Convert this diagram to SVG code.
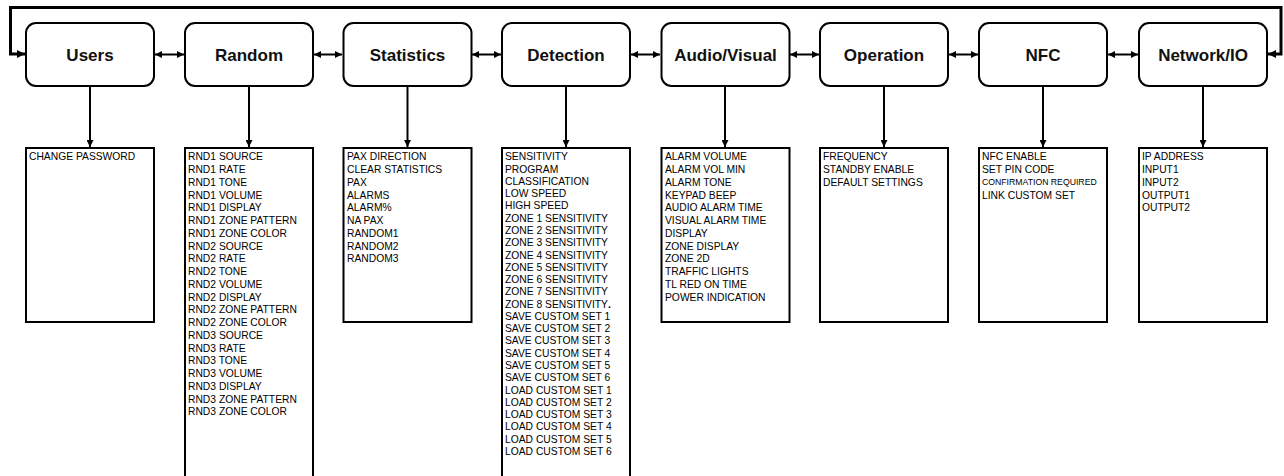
<svg xmlns="http://www.w3.org/2000/svg" width="1284" height="476" viewBox="0 0 1284 476">
<style>
.node{fill:#fff;stroke:#000;stroke-width:2}
.title{font-family:"Liberation Sans",Arial,sans-serif;font-weight:bold;font-size:17px;text-anchor:middle;fill:#111}
.list{fill:#fff;stroke:#000;stroke-width:2}
.item{font-family:"Liberation Sans",Arial,sans-serif;font-size:10.3px;fill:#000}
.small{font-size:8.7px}
.conn{fill:none;stroke:#000;stroke-width:2}
.loop{fill:none;stroke:#000;stroke-width:3}
</style>
<defs>
<marker id="ah" viewBox="0 0 10 10" refX="10" refY="5" markerWidth="7" markerHeight="7" markerUnits="userSpaceOnUse" orient="auto-start-reverse">
<path d="M0,0 L10,5 L0,10 z" fill="#000"/>
</marker>
<marker id="ahl" viewBox="0 0 10 10" refX="10" refY="5" markerWidth="8" markerHeight="8" markerUnits="userSpaceOnUse" orient="auto-start-reverse">
<path d="M0,0 L10,5 L0,10 z" fill="#000"/>
</marker>
</defs>
<rect width="1284" height="476" fill="#fff"/>
<g id="connectors">
<path class="loop" d="M25,54 H10.5 V7.5 H1281 V54 H1268" marker-start="url(#ahl)" marker-end="url(#ahl)"/>
<line class="conn" x1="155" y1="54.5" x2="184" y2="54.5" marker-start="url(#ah)" marker-end="url(#ah)"/>
<line class="conn" x1="314" y1="54.5" x2="342" y2="54.5" marker-start="url(#ah)" marker-end="url(#ah)"/>
<line class="conn" x1="472" y1="54.5" x2="501" y2="54.5" marker-start="url(#ah)" marker-end="url(#ah)"/>
<line class="conn" x1="631" y1="54.5" x2="660" y2="54.5" marker-start="url(#ah)" marker-end="url(#ah)"/>
<line class="conn" x1="790" y1="54.5" x2="819" y2="54.5" marker-start="url(#ah)" marker-end="url(#ah)"/>
<line class="conn" x1="949" y1="54.5" x2="978" y2="54.5" marker-start="url(#ah)" marker-end="url(#ah)"/>
<line class="conn" x1="1108" y1="54.5" x2="1138" y2="54.5" marker-start="url(#ah)" marker-end="url(#ah)"/>
<line class="conn" x1="90" y1="87" x2="90" y2="147" marker-end="url(#ah)"/>
<line class="conn" x1="249" y1="87" x2="249" y2="147" marker-end="url(#ah)"/>
<line class="conn" x1="407.5" y1="87" x2="407.5" y2="147" marker-end="url(#ah)"/>
<line class="conn" x1="566" y1="87" x2="566" y2="147" marker-end="url(#ah)"/>
<line class="conn" x1="725" y1="87" x2="725" y2="147" marker-end="url(#ah)"/>
<line class="conn" x1="884" y1="87" x2="884" y2="147" marker-end="url(#ah)"/>
<line class="conn" x1="1043" y1="87" x2="1043" y2="147" marker-end="url(#ah)"/>
<line class="conn" x1="1203" y1="87" x2="1203" y2="147" marker-end="url(#ah)"/>
</g>
<g id="users">
<rect class="node" x="26" y="23" width="128" height="63" rx="10"/>
<text class="title" x="90" y="60.5">Users</text>
<rect class="list" x="26" y="148" width="128" height="174"/>
<text class="item" x="29" y="160.4">CHANGE PASSWORD</text>
</g>
<g id="random">
<rect class="node" x="185" y="23" width="128" height="63" rx="10"/>
<text class="title" x="249" y="60.5">Random</text>
<rect class="list" x="185" y="148" width="128" height="340"/>
<g class="item">
<text x="188" y="160.4">RND1 SOURCE</text>
<text x="188" y="173.15">RND1 RATE</text>
<text x="188" y="185.9">RND1 TONE</text>
<text x="188" y="198.65">RND1 VOLUME</text>
<text x="188" y="211.4">RND1 DISPLAY</text>
<text x="188" y="224.15">RND1 ZONE PATTERN</text>
<text x="188" y="236.9">RND1 ZONE COLOR</text>
<text x="188" y="249.65">RND2 SOURCE</text>
<text x="188" y="262.4">RND2 RATE</text>
<text x="188" y="275.15">RND2 TONE</text>
<text x="188" y="287.9">RND2 VOLUME</text>
<text x="188" y="300.65">RND2 DISPLAY</text>
<text x="188" y="313.4">RND2 ZONE PATTERN</text>
<text x="188" y="326.15">RND2 ZONE COLOR</text>
<text x="188" y="338.9">RND3 SOURCE</text>
<text x="188" y="351.65">RND3 RATE</text>
<text x="188" y="364.4">RND3 TONE</text>
<text x="188" y="377.15">RND3 VOLUME</text>
<text x="188" y="389.9">RND3 DISPLAY</text>
<text x="188" y="402.65">RND3 ZONE PATTERN</text>
<text x="188" y="415.4">RND3 ZONE COLOR</text>
</g>
</g>
<g id="statistics">
<rect class="node" x="343.5" y="23" width="128" height="63" rx="10"/>
<text class="title" x="407.5" y="60.5">Statistics</text>
<rect class="list" x="343.5" y="148" width="128" height="174"/>
<g class="item">
<text x="347" y="160.4">PAX DIRECTION</text>
<text x="347" y="173.15">CLEAR STATISTICS</text>
<text x="347" y="185.9">PAX</text>
<text x="347" y="198.65">ALARMS</text>
<text x="347" y="211.4">ALARM%</text>
<text x="347" y="224.15">NA PAX</text>
<text x="347" y="236.9">RANDOM1</text>
<text x="347" y="249.65">RANDOM2</text>
<text x="347" y="262.4">RANDOM3</text>
</g>
</g>
<g id="detection">
<rect class="node" x="502" y="23" width="128" height="63" rx="10"/>
<text class="title" x="566" y="60.5">Detection</text>
<rect class="list" x="502" y="148" width="128" height="340"/>
<g class="item">
<text x="505" y="160.4">SENSITIVITY</text>
<text x="505" y="172.67">PROGRAM</text>
<text x="505" y="184.94">CLASSIFICATION</text>
<text x="505" y="197.21">LOW SPEED</text>
<text x="505" y="209.48">HIGH SPEED</text>
<text x="505" y="221.75">ZONE 1 SENSITIVITY</text>
<text x="505" y="234.02">ZONE 2 SENSITIVITY</text>
<text x="505" y="246.29">ZONE 3 SENSITIVITY</text>
<text x="505" y="258.56">ZONE 4 SENSITIVITY</text>
<text x="505" y="270.83">ZONE 5 SENSITIVITY</text>
<text x="505" y="283.1">ZONE 6 SENSITIVITY</text>
<text x="505" y="295.37">ZONE 7 SENSITIVITY</text>
<text x="505" y="307.64">ZONE 8 SENSITIVITY<tspan font-weight="bold">.</tspan></text>
<text x="505" y="319.91">SAVE CUSTOM SET 1</text>
<text x="505" y="332.18">SAVE CUSTOM SET 2</text>
<text x="505" y="344.45">SAVE CUSTOM SET 3</text>
<text x="505" y="356.72">SAVE CUSTOM SET 4</text>
<text x="505" y="368.99">SAVE CUSTOM SET 5</text>
<text x="505" y="381.26">SAVE CUSTOM SET 6</text>
<text x="505" y="393.53">LOAD CUSTOM SET 1</text>
<text x="505" y="405.8">LOAD CUSTOM SET 2</text>
<text x="505" y="418.07">LOAD CUSTOM SET 3</text>
<text x="505" y="430.34">LOAD CUSTOM SET 4</text>
<text x="505" y="442.61">LOAD CUSTOM SET 5</text>
<text x="505" y="454.88">LOAD CUSTOM SET 6</text>
</g>
</g>
<g id="audio-visual">
<rect class="node" x="661.5" y="23" width="128" height="63" rx="10"/>
<text class="title" x="725.5" y="60.5">Audio/Visual</text>
<rect class="list" x="661.5" y="148" width="128" height="174"/>
<g class="item">
<text x="665" y="160.4">ALARM VOLUME</text>
<text x="665" y="173.15">ALARM VOL MIN</text>
<text x="665" y="185.9">ALARM TONE</text>
<text x="665" y="198.65">KEYPAD BEEP</text>
<text x="665" y="211.4">AUDIO ALARM TIME</text>
<text x="665" y="224.15">VISUAL ALARM TIME</text>
<text x="665" y="236.9">DISPLAY</text>
<text x="665" y="249.65">ZONE DISPLAY</text>
<text x="665" y="262.4">ZONE 2D</text>
<text x="665" y="275.15">TRAFFIC LIGHTS</text>
<text x="665" y="287.9">TL RED ON TIME</text>
<text x="665" y="300.65">POWER INDICATION</text>
</g>
</g>
<g id="operation">
<rect class="node" x="820" y="23" width="128" height="63" rx="10"/>
<text class="title" x="884" y="60.5">Operation</text>
<rect class="list" x="820" y="148" width="128" height="174"/>
<g class="item">
<text x="823" y="160.4">FREQUENCY</text>
<text x="823" y="173.15">STANDBY ENABLE</text>
<text x="823" y="185.9">DEFAULT SETTINGS</text>
</g>
</g>
<g id="nfc">
<rect class="node" x="979" y="23" width="128" height="63" rx="10"/>
<text class="title" x="1043" y="60.5">NFC</text>
<rect class="list" x="979" y="148" width="128" height="174"/>
<g class="item">
<text x="982" y="160.4">NFC ENABLE</text>
<text x="982" y="173.15">SET PIN CODE</text>
<text x="982" y="185.4" class="small">CONFIRMATION REQUIRED</text>
<text x="982" y="198.65">LINK CUSTOM SET</text>
</g>
</g>
<g id="network-io">
<rect class="node" x="1139" y="23" width="128" height="63" rx="10"/>
<text class="title" x="1203" y="60.5">Network/IO</text>
<rect class="list" x="1139" y="148" width="128" height="174"/>
<g class="item">
<text x="1142" y="160.4">IP ADDRESS</text>
<text x="1142" y="173.15">INPUT1</text>
<text x="1142" y="185.9">INPUT2</text>
<text x="1142" y="198.65">OUTPUT1</text>
<text x="1142" y="211.4">OUTPUT2</text>
</g>
</g>
</svg>
